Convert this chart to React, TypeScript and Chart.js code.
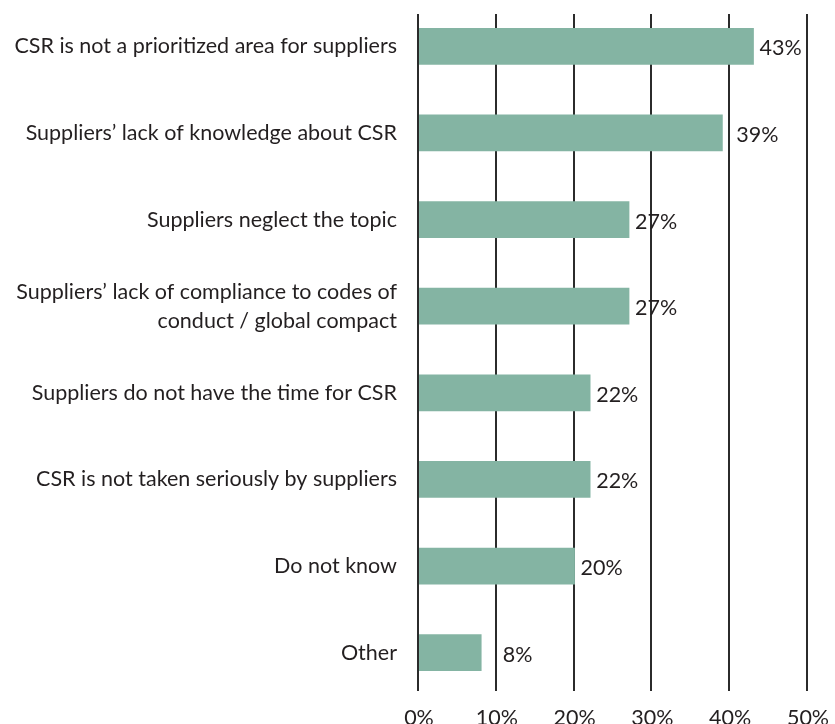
import React, { useEffect, useRef } from "react";
import { Chart, registerables } from "chart.js";

Chart.register(...registerables);

const categories: (string | string[])[] = [
  "CSR is not a prioritized area for suppliers",
  "Suppliers\u2019 lack of knowledge about CSR",
  "Suppliers neglect the topic",
  ["Suppliers\u2019 lack of compliance to codes of", "conduct / global compact"],
  "Suppliers do not have the time for CSR",
  "CSR is not taken seriously by suppliers",
  "Do not know",
  "Other",
];
const values = [43, 39, 27, 27, 22, 22, 20, 8];
const xTicks = [0, 10, 20, 30, 40, 50];

const FONT = "Lato, 'Open Sans', sans-serif";
const FSIZE = 21.5;
const TEXT = "#231f20";
const BAR = "#84b4a3";

const gridPlugin = {
  id: "customGrid",
  beforeDatasetsDraw(chart: any) {
    const { ctx, chartArea, scales } = chart;
    const x = scales.x;
    ctx.save();
    ctx.strokeStyle = "#2b2b2b";
    ctx.lineWidth = 2;
    xTicks.forEach((t) => {
      const px = Math.round(x.getPixelForValue(t)) - 1;
      ctx.beginPath();
      ctx.moveTo(px, chartArea.top + 11);
      ctx.lineTo(px, chartArea.bottom - 5);
      ctx.stroke();
    });
    ctx.restore();
  },
};

const labelPlugin = {
  id: "valueLabels",
  afterDatasetsDraw(chart: any) {
    const { ctx, scales } = chart;
    const meta = chart.getDatasetMeta(0);
    const gridPx = xTicks.map((t) => scales.x.getPixelForValue(t));
    ctx.save();
    ctx.font = `${FSIZE}px ${FONT}`;
    ctx.fillStyle = TEXT;
    ctx.textAlign = "left";
    ctx.textBaseline = "middle";
    meta.data.forEach((bar: any, i: number) => {
      let start = bar.x;
      const near = gridPx.find((g) => g >= bar.x - 3 && g <= bar.x + 18);
      if (near !== undefined) start = Math.max(start, near);
      ctx.fillText(`${values[i]}%`, start + 6, bar.y + 2);
    });
    ctx.restore();
  },
};

export default function App() {
  const ref = useRef<HTMLCanvasElement>(null);
  useEffect(() => {
    if (!ref.current) return;
    const chart = new Chart(ref.current, {
      type: "bar",
      data: {
        labels: categories,
        datasets: [
          {
            data: values,
            backgroundColor: BAR,
            borderWidth: 0,
            barThickness: 36,
          },
        ],
      },
      options: {
        indexAxis: "y",
        animation: false,
        responsive: false,
        maintainAspectRatio: false,
        layout: { padding: { top: 3, right: 27, bottom: 0, left: 0 } },
        plugins: { legend: { display: false }, tooltip: { enabled: false } },
        scales: {
          x: {
            type: "linear",
            min: 0,
            max: 50,
            position: "bottom",
            grid: { display: false, drawTicks: false },
            border: { display: false },
            ticks: {
              stepSize: 10,
              padding: 9,
              color: TEXT,
              font: { family: FONT, size: FSIZE },
              callback: (v: any) => `${v}%`,
            },
            afterFit: (s: any) => {
              s.height = 28;
              s.paddingLeft = 0;
              s.paddingRight = 0;
            },
          },
          y: {
            grid: { display: false, drawTicks: false },
            border: { display: false },
            ticks: {
              padding: 22,
              color: TEXT,
              font: { family: FONT, size: FSIZE, lineHeight: 1.35 },
            },
            afterFit: (s: any) => {
              s.width = 419;
              s.paddingTop = 0;
              s.paddingBottom = 0;
            },
          },
        },
      },
      plugins: [gridPlugin, labelPlugin],
    });
    return () => chart.destroy();
  }, []);
  return (
    <div style={{ position: "absolute", left: 0, top: 0, width: 835, height: 724, background: "#fff" }}>
      <canvas ref={ref} width={835} height={724} />
    </div>
  );
}
